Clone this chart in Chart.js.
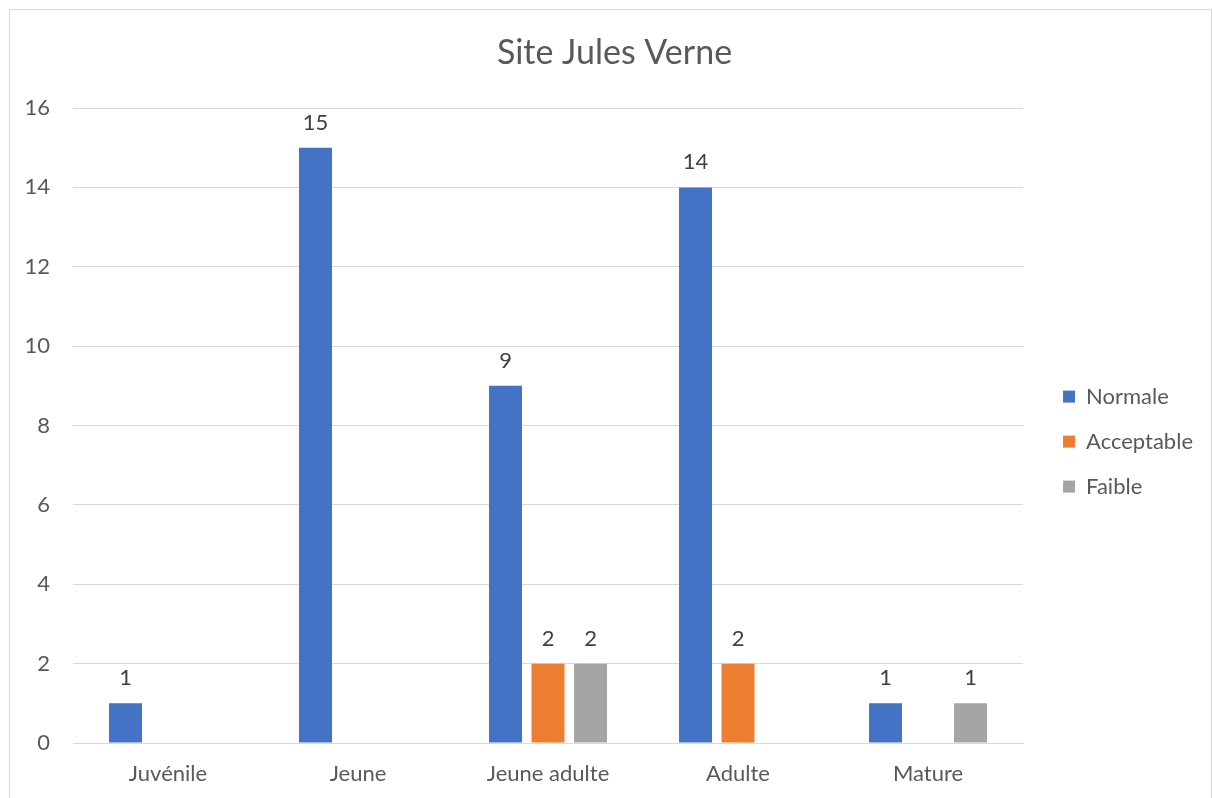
<!DOCTYPE html>
<html>
<head>
<meta charset="utf-8">
<script src="https://cdn.jsdelivr.net/npm/chart.js@4.4.0/dist/chart.umd.min.js"></script>
<style>
  html, body { margin: 0; padding: 0; background: #fff; overflow: hidden; }
  #frame { position: absolute; left: 9px; top: 9px; width: 1203px; height: 820px; border: 1px solid #d9d9d9; box-sizing: border-box; }
  #wrap { position: absolute; left: 0; top: 0; width: 1213px; height: 798px; }
</style>
</head>
<body>
<div id="frame"></div>
<div id="wrap"><canvas id="chart" width="1213" height="798"></canvas></div>
<script>
// donnees
const categories = ['Juvénile', 'Jeune', 'Jeune adulte', 'Adulte', 'Mature'];
const normale = [1, 15, 9, 14, 1];
const acceptable = [null, null, 2, 2, null];
const faible = [null, null, 2, null, 1];
const yTicks = [0, 2, 4, 6, 8, 10, 12, 14, 16];

const FONT = 'Lato, "Open Sans", sans-serif';

// etiquettes de valeurs au-dessus des barres
const valueLabels = {
  id: 'valueLabels',
  afterDatasetsDraw(chart) {
    const ctx = chart.ctx;
    ctx.save();
    ctx.font = '22px ' + FONT;
    ctx.fillStyle = '#404040';
    ctx.textAlign = 'center';
    ctx.textBaseline = 'middle';
    chart.data.datasets.forEach((ds, i) => {
      const meta = chart.getDatasetMeta(i);
      meta.data.forEach((bar, j) => {
        const v = ds.data[j];
        if (v === null || v === undefined) return;
        ctx.fillText(String(v), bar.x, bar.y - 25);
      });
    });
    ctx.restore();
  }
};

new Chart(document.getElementById('chart'), {
  type: 'bar',
  data: {
    labels: categories,
    datasets: [
      { label: 'Normale', data: normale, backgroundColor: '#4472C4' },
      { label: 'Acceptable', data: acceptable, backgroundColor: '#ED7D31' },
      { label: 'Faible', data: faible, backgroundColor: '#A5A5A5' }
    ]
  },
  options: {
    responsive: false,
    animation: false,
    categoryPercentage: 0.671,
    barPercentage: 0.776,
    layout: { padding: { left: 26, right: 10, top: 0, bottom: 0 } },
    plugins: {
      title: {
        display: true,
        text: 'Site Jules Verne',
        color: '#595959',
        font: { family: FONT, size: 34, weight: 'normal' },
        padding: { top: 32.6, bottom: 34.6 }
      },
      legend: {
        position: 'right',
        align: 'center',
        title: { display: true, text: ' ', padding: 33, font: { size: 16 } },
        labels: {
          color: '#595959',
          boxWidth: 12,
          boxHeight: 12,
          padding: 23,
          font: { family: FONT, size: 22 }
        }
      },
      tooltip: { enabled: false }
    },
    scales: {
      x: {
        grid: { display: false, drawTicks: false },
        border: { color: '#d9d9d9', width: 1 },
        afterFit(scale) { scale.height = 55; },
        ticks: { color: '#595959', padding: 18, font: { family: FONT, size: 22 } }
      },
      y: {
        min: 0,
        max: 16,
        afterBuildTicks(scale) { scale.ticks = yTicks.map(v => ({ value: v })); },
        afterFit(scale) { scale.width = 47; },
        grid: { color: '#d9d9d9', lineWidth: 1, drawTicks: false },
        border: { display: false },
        ticks: { color: '#595959', padding: 23, font: { family: FONT, size: 22 } }
      },
      gap: {
        position: 'right',
        min: 0,
        max: 16,
        afterFit(scale) { scale.width = 17; },
        grid: { display: false, drawTicks: false },
        border: { display: false },
        ticks: { display: false }
      }
    }
  },
  plugins: [valueLabels]
});
</script>
</body>
</html>
